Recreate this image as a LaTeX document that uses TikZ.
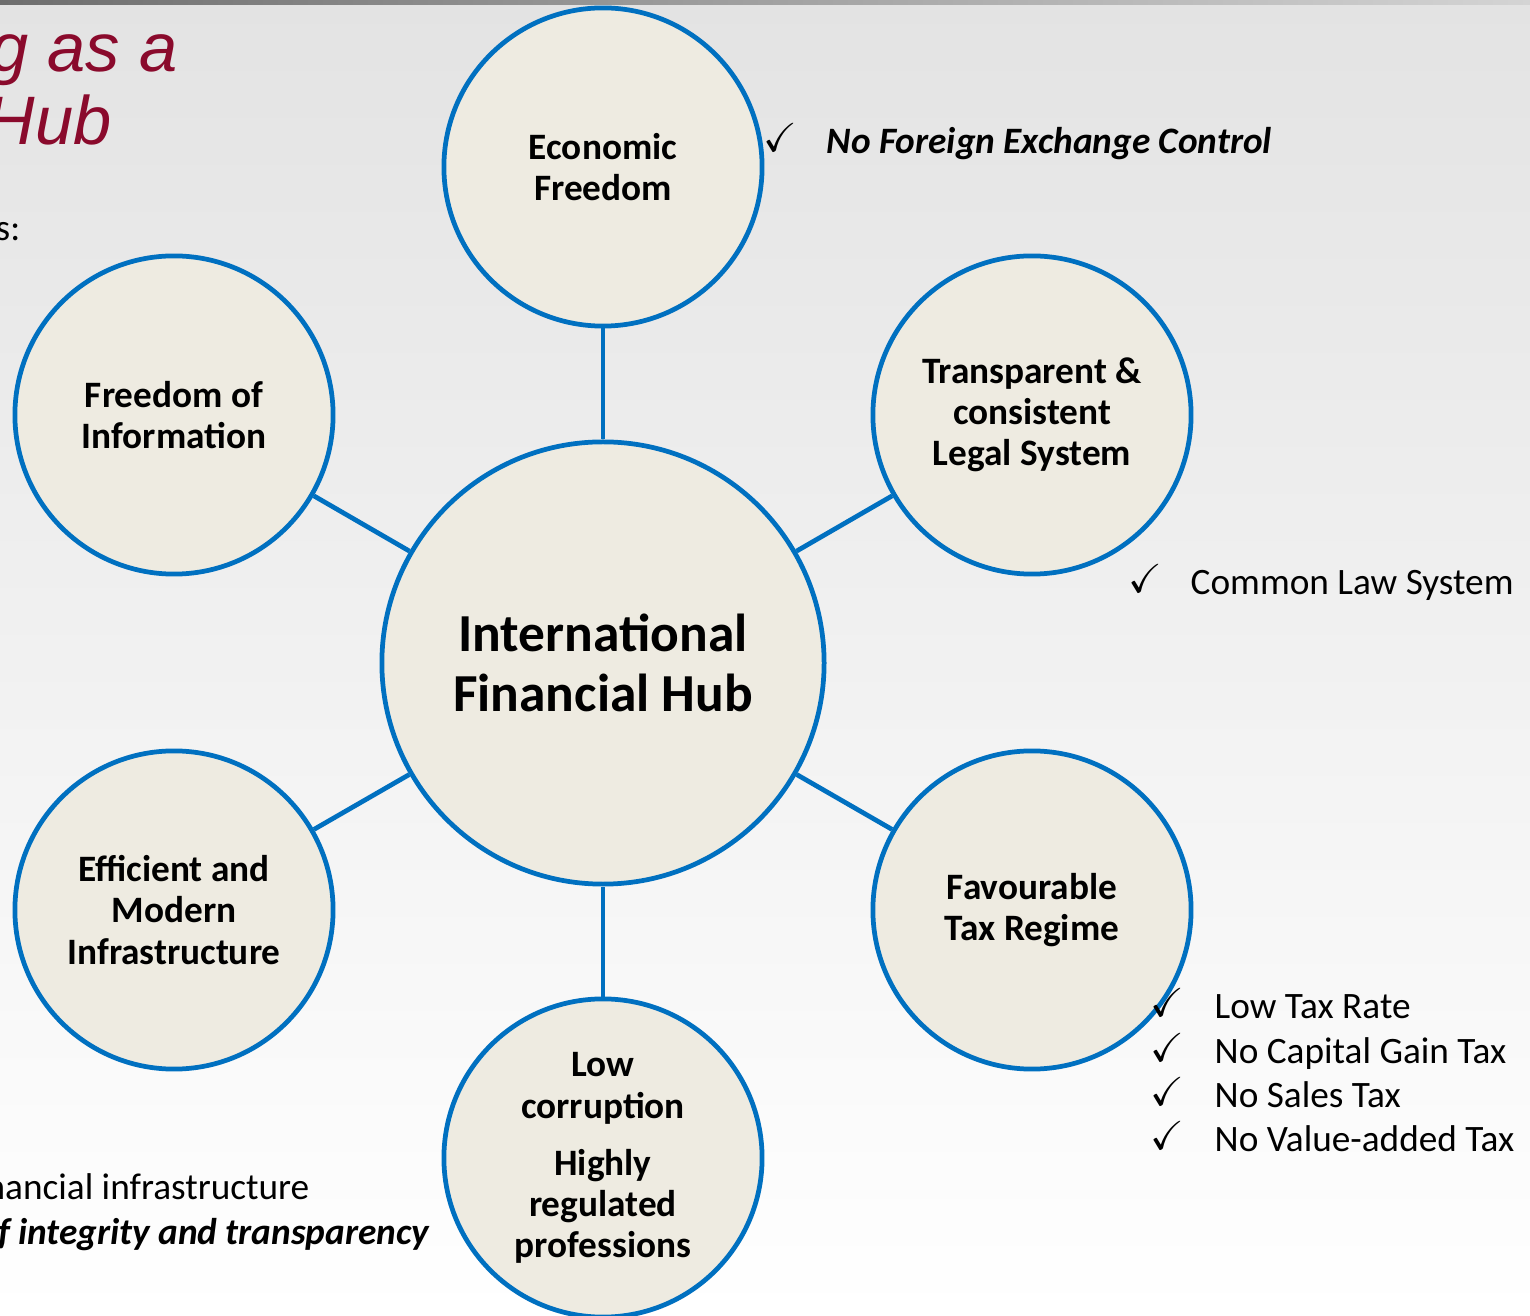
\documentclass[tikz,border=0pt]{standalone}
\usepackage{amssymb}
\usepackage{fontspec}
\setmainfont{Carlito}
\newfontfamily\titlefont{Liberation Sans}
\definecolor{HubBlue}{HTML}{0070C0}
\definecolor{HubFill}{HTML}{EEEBE1}
\definecolor{TitleRed}{HTML}{8A0A2C}
\definecolor{BackGrey}{HTML}{E3E3E3}
\definecolor{BarDark}{HTML}{6E6E6E}
\definecolor{BarLight}{HTML}{D4D4D4}
\usetikzlibrary{positioning,shapes}

\tikzset{
 pillar/.style={circle, draw=HubBlue, fill=HubFill, line width=1.35pt, minimum size=3.18cm, inner sep=0pt, align=center, font=\fontsize{10.6}{11.7}\selectfont\bfseries},
 hub/.style={pillar, minimum size=4.42cm, font=\fontsize{15.2}{17}\selectfont\bfseries},
 link/.style={draw=HubBlue, line width=1.35pt},
 tick/.style={anchor=base, inner sep=0pt, font=\fontsize{11.5}{12}\selectfont},
 note/.style={anchor=base west, inner sep=0pt, font=\fontsize{10.6}{12}\selectfont},
 headline/.style={anchor=base east, inner sep=0pt, text=TitleRed, font=\titlefont\itshape\fontsize{19.5}{21}\selectfont}
}

\begin{document}
\begin{tikzpicture}[x=0.01cm, y=-0.01cm]

 \useasboundingbox (0,0) rectangle (1530,1316);
 \clip (0,0) rectangle (1530,1316);
 \shade[top color=BackGrey, bottom color=white] (0,0) rectangle (1530,1316);
 \shade[left color=BarDark, right color=BarLight] (0,0) rectangle (1530,5);

 % slide text cut at the left edge
 \node[headline] (title1) at (178,72) {g as a};
 \node[headline] (title2) at (112,145) {Hub};
 \node[note, anchor=base east] (lead) at (21,241) {s:};
 \node[note, anchor=base east] (infra) at (310,1199) {nancial infrastructure};
 \node[note, anchor=base east, font=\fontsize{10.6}{12}\selectfont\bfseries\itshape] (integrity) at (430,1244) {f integrity and transparency};

 % hub and pillars
 \node[hub] (hub) at (603,663) {International\\Financial Hub};
 \node[pillar] (econ) at (603,167) {Economic\\Freedom};
 \node[pillar] (legal) at (1032,415) {Transparent \&\\consistent\\Legal System};
 \node[pillar] (tax) at (1032,910) {Favourable\\Tax Regime};
 \node[pillar] (corrupt) at (603,1158) {Low\\corruption\\[0.16cm]Highly\\regulated\\professions};
 \node[pillar] (infrastr) at (174,910) {Efficient and\\Modern\\Infrastructure};
 \node[pillar] (info) at (174,415) {Freedom of\\Information};

 \draw[link] (hub) -- (econ);
 \draw[link] (hub) -- (legal);
 \draw[link] (hub) -- (tax);
 \draw[link] (hub) -- (corrupt);
 \draw[link] (hub) -- (infrastr);
 \draw[link] (hub) -- (info);

 % check lists
 \node[tick] (tickfx) at (780,152) {$\checkmark$};
 \node[note, font=\fontsize{10.6}{12}\selectfont\bfseries\itshape] (fx) at (826,154) {No Foreign Exchange Control};

 \node[tick] (ticklaw) at (1145,593) {$\checkmark$};
 \node[note] (law) at (1190,595) {Common Law System};

 \node[tick] (tickrate) at (1167,1016) {$\checkmark$};
 \node[note] (rate) at (1214,1018) {Low Tax Rate};
 \node[tick] (tickgain) at (1167,1061) {$\checkmark$};
 \node[note] (gain) at (1214,1063) {No Capital Gain Tax};
 \node[tick] (ticksales) at (1167,1105) {$\checkmark$};
 \node[note] (sales) at (1214,1107) {No Sales Tax};
 \node[tick] (tickvat) at (1167,1149) {$\checkmark$};
 \node[note] (vat) at (1214,1151) {No Value-added Tax};

\end{tikzpicture}
\end{document}
